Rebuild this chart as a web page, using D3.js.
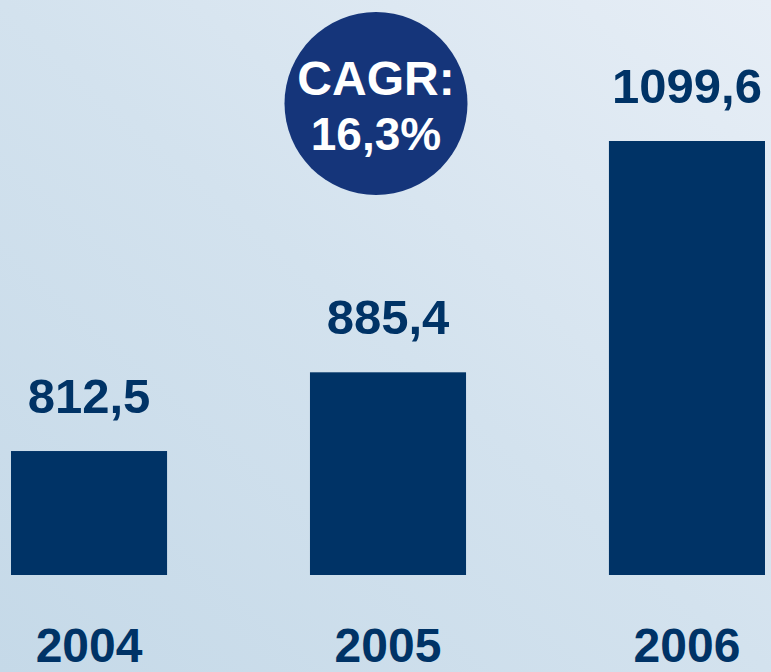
<!DOCTYPE html>
<html>
<head>
<meta charset="utf-8">
<script src="https://cdn.jsdelivr.net/npm/d3@7"></script>
<style>
html,body{margin:0;padding:0;overflow:hidden;}
svg{display:block;}
</style>
</head>
<body>
<svg id="chart" width="771" height="672"></svg>
<script>
const categories = ["2004", "2005", "2006"];
const values = [812.5, 885.4, 1099.6];
const valueLabels = ["812,5", "885,4", "1099,6"];
const badgeLines = ["CAGR:", "16,3%"];

const W = 771, H = 672;
const svg = d3.select("#chart");
const defs = svg.append("defs");
const grad = defs.append("linearGradient").attr("id","bg")
  .attr("x1","0%").attr("y1","100%").attr("x2","100%").attr("y2","0%");
grad.append("stop").attr("offset","0%").attr("stop-color","#c5d9e8");
grad.append("stop").attr("offset","50%").attr("stop-color","#d3e2ee");
grad.append("stop").attr("offset","100%").attr("stop-color","#e7eef6");
svg.append("rect").attr("width",W).attr("height",H).attr("fill","url(#bg)");

const x = d3.scaleBand().domain(categories).range([11, 765]).paddingInner(0.478).paddingOuter(0);
const y = d3.scaleLinear().domain([697.7, 1099.6]).range([575, 141]);

const font = "'Liberation Sans', Arial, Helvetica, sans-serif";
const dark = "#003366";

svg.selectAll("rect.bar").data(values).join("rect")
  .attr("class","bar")
  .attr("x",(d,i)=>x(categories[i]))
  .attr("y",d=>y(d))
  .attr("width",x.bandwidth())
  .attr("height",d=>y.range()[0]-y(d))
  .attr("fill",dark);

svg.selectAll("text.val").data(values).join("text")
  .attr("class","val")
  .attr("x",(d,i)=>x(categories[i])+x.bandwidth()/2)
  .attr("y",d=>y(d)-38)
  .attr("text-anchor","middle")
  .attr("font-family",font).attr("font-weight","bold").attr("font-size",49)
  .attr("fill",dark)
  .text((d,i)=>valueLabels[i]);

const xAxis = d3.axisBottom(x).tickSize(0).tickPadding(0);
const gx = svg.append("g").attr("transform","translate(0,620)").call(xAxis);
gx.select(".domain").remove();
gx.selectAll("text")
  .attr("dy",null).attr("y",42)
  .attr("font-family",font).attr("font-weight","bold").attr("font-size",48)
  .attr("fill",dark);

// CAGR badge
const cx = 376, cy = 103.5, r = 91.5;
svg.append("circle").attr("cx",cx).attr("cy",cy).attr("r",r).attr("fill","#15357a");
svg.selectAll("text.badge").data(badgeLines).join("text")
  .attr("class","badge")
  .attr("x",cx)
  .attr("y",(d,i)=>[95,150][i])
  .attr("text-anchor","middle")
  .attr("font-family",font).attr("font-weight","bold").attr("font-size",(d,i)=>[48,46][i])
  .attr("fill","#ffffff")
  .text(d=>d);
</script>
</body>
</html>
